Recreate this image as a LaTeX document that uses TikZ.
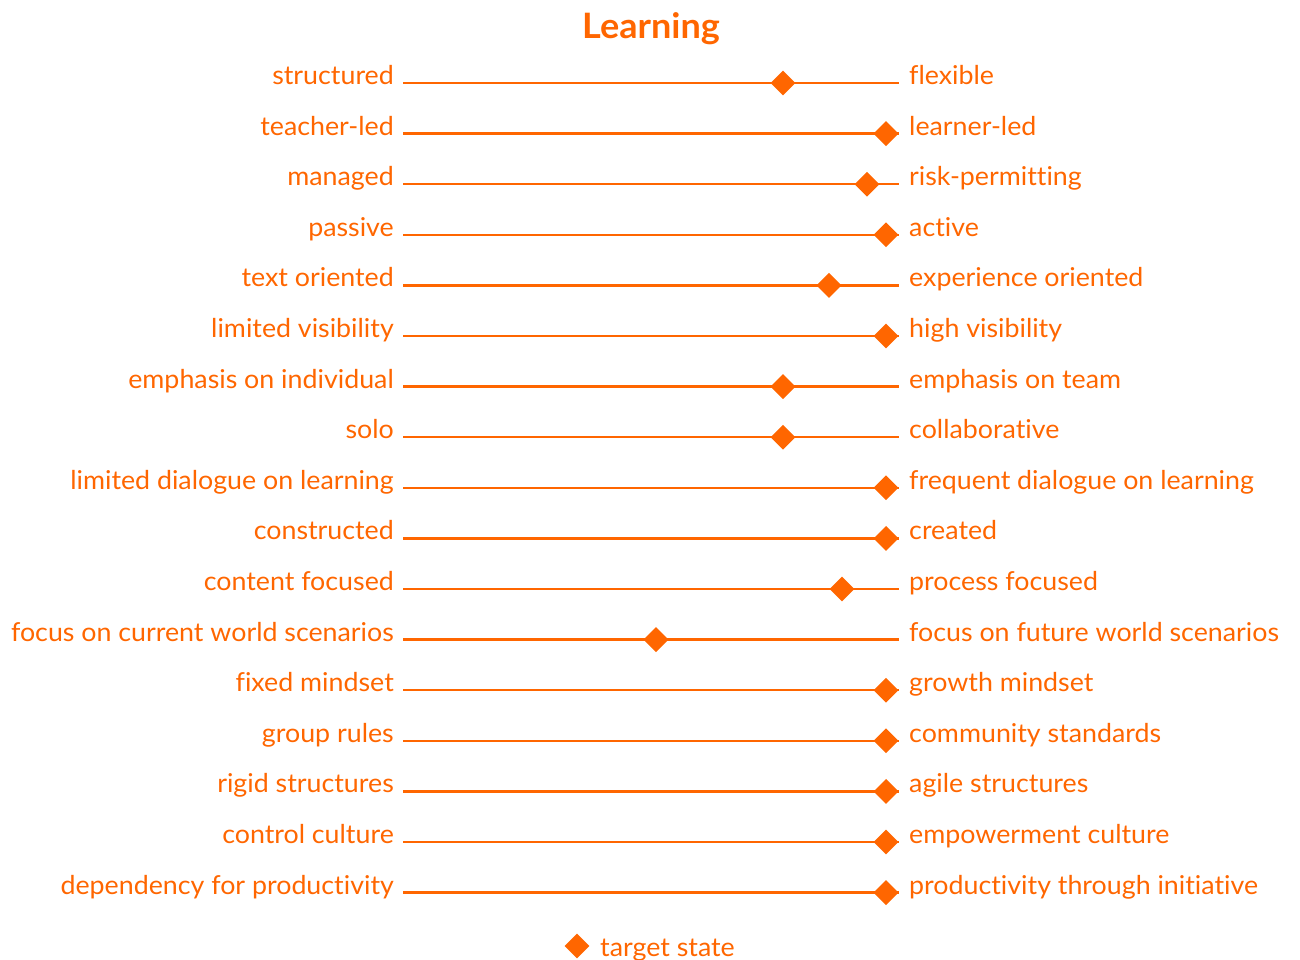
\documentclass[tikz,border=0pt]{standalone}
\usepackage{fontspec}
\setmainfont{Lato}[FakeStretch=1.03, Ligatures=NoCommon]
\usetikzlibrary{shapes.geometric}
\definecolor{accent}{RGB}{255,102,0}
\tikzset{
  lbl/.style={text=accent, font=\fontsize{26}{30}\selectfont, inner sep=0pt},
  scaleline/.style={draw=accent, line width=2.4pt},
  marker/.style={shape=diamond, fill=accent, draw=none, inner sep=0pt,
    minimum width=25pt, minimum height=25pt},
}
\begin{document}
\begin{tikzpicture}[x=1pt,y=-1pt]
\useasboundingbox (0,0) rectangle (1300,960);
\node[lbl, font=\bfseries\fontsize{35}{40}\selectfont, anchor=base] (title) at (651,39) {Learning};
\foreach \i/\lt/\rt/\p in {
  0/structured/flexible/783,
  1/teacher-led/learner-led/886,
  2/managed/risk-permitting/867,
  3/passive/active/886,
  4/text oriented/experience oriented/829,
  5/limited visibility/high visibility/886,
  6/emphasis on individual/emphasis on team/783,
  7/solo/collaborative/783,
  8/limited dialogue on learning/frequent dialogue on learning/886,
  9/constructed/created/886,
  10/content focused/process focused/842,
  11/focus on current world scenarios/focus on future world scenarios/656,
  12/fixed mindset/growth mindset/886,
  13/group rules/community standards/886,
  14/rigid structures/agile structures/886,
  15/control culture/empowerment culture/886,
  16/dependency for productivity/productivity through initiative/886}{
  \pgfmathsetmacro{\yy}{83+50.6*\i}
  \pgfmathsetmacro{\ty}{\yy+1.5}
  \node[lbl, anchor=base east] (L\i) at (394,\ty) {\lt};
  \node[lbl, anchor=base west] (R\i) at (909,\ty) {\rt};
  \coordinate (a\i) at (403,\yy);
  \coordinate (b\i) at (899,\yy);
  \draw[scaleline] (a\i) -- (b\i);
  \node[marker] (d\i) at (\p,\yy) {};
}
\node[marker] (key) at (577,946) {};
\node[lbl, anchor=base west] (keytext) at (600,956) {target state};
\end{tikzpicture}
\end{document}
